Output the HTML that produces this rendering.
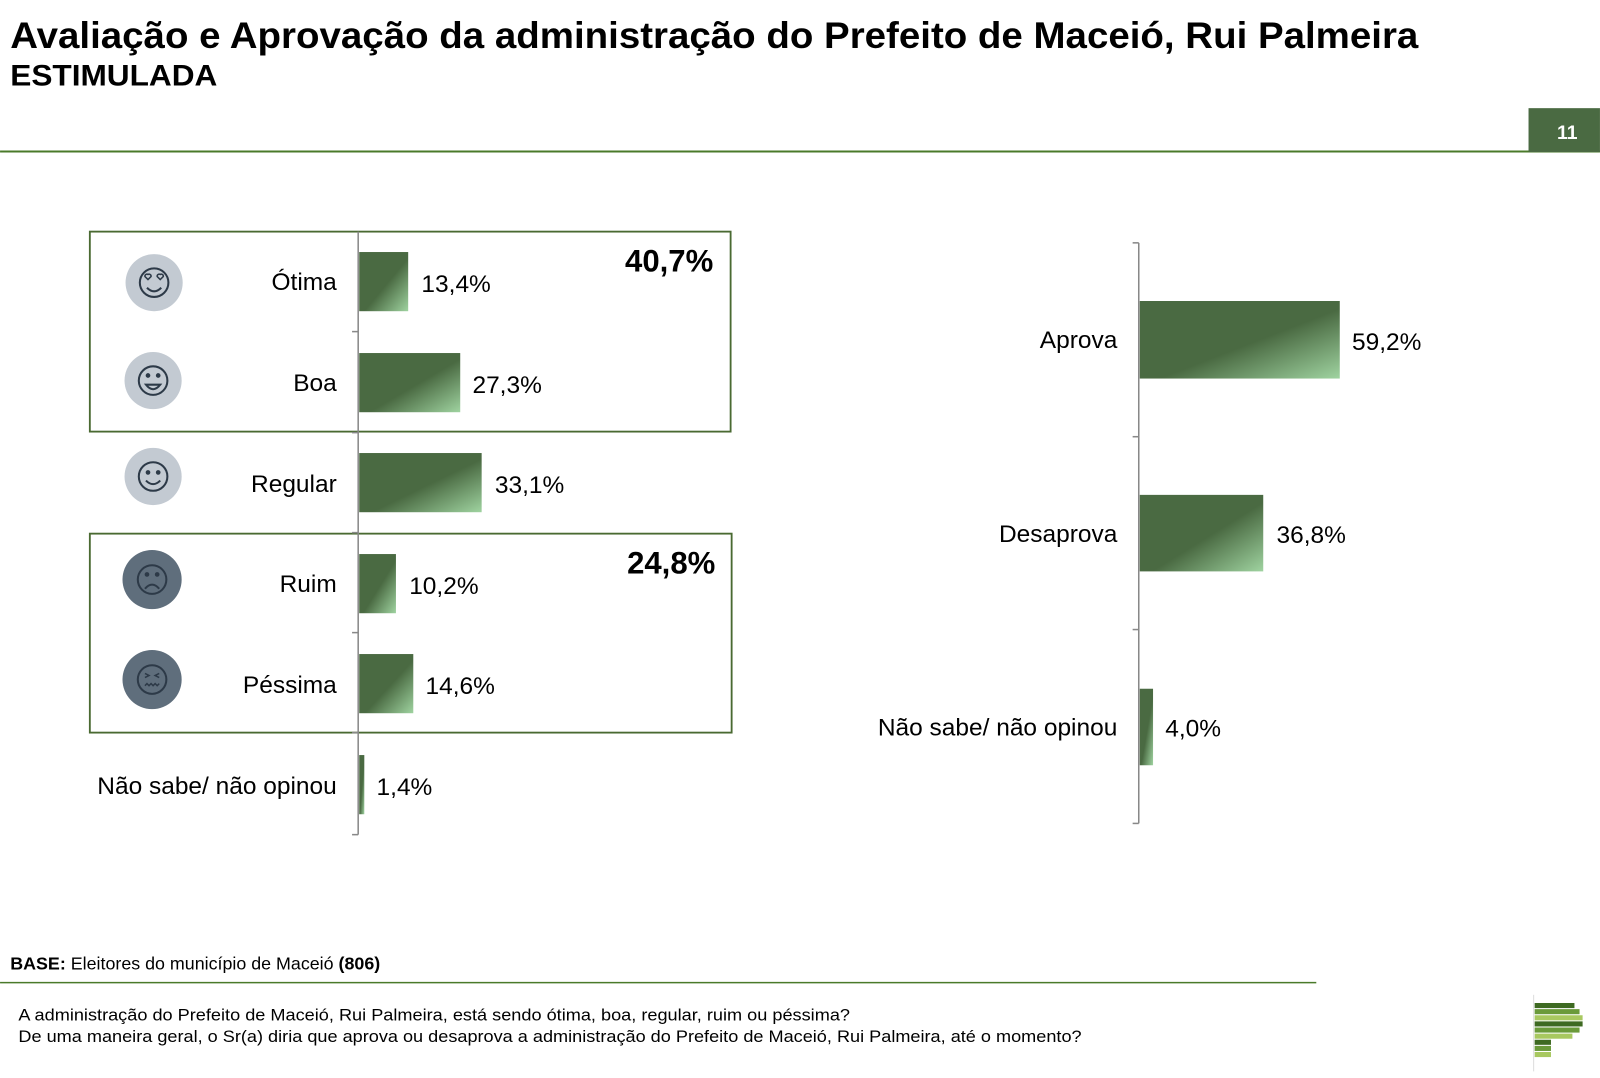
<!DOCTYPE html>
<html><head><meta charset="utf-8"><style>
html,body{margin:0;padding:0;background:#fff;}
svg{display:block;font-family:"Liberation Sans",sans-serif;}
</style></head><body>
<svg width="1600" height="1078" viewBox="0 0 1568 1056.5" xmlns="http://www.w3.org/2000/svg">
<defs>
<linearGradient id="g" x1="0" y1="0" x2="1" y2="1">
<stop offset="0" stop-color="#4a6a42"/><stop offset="0.55" stop-color="#4a6a42"/><stop offset="1" stop-color="#9fd3a0"/>
</linearGradient>
</defs>
<text x="10" y="47" font-size="36" font-weight="bold" fill="#000" textLength="1380" lengthAdjust="spacingAndGlyphs">Avaliação e Aprovação da administração do Prefeito de Maceió, Rui Palmeira</text>
<text x="10" y="84" font-size="29" font-weight="bold" fill="#000" textLength="203" lengthAdjust="spacingAndGlyphs">ESTIMULADA</text>
<line x1="0" y1="148.5" x2="1568" y2="148.5" stroke="#4a7a2a" stroke-width="2"/>
<rect x="1498" y="106" width="70" height="43" fill="#4a6a42"/>
<text x="1536" y="136" font-size="19" font-weight="bold" fill="#fff" text-anchor="middle">11</text>

<rect x="88" y="227" width="628" height="196" fill="none" stroke="#4a6a32" stroke-width="1.8"/>
<rect x="88" y="523" width="629" height="195" fill="none" stroke="#4a6a32" stroke-width="1.8"/>
<g stroke="#888" stroke-width="1.5">
<line x1="351" y1="227" x2="351" y2="818"/>
<line x1="345" y1="325" x2="351" y2="325"/><line x1="345" y1="424" x2="351" y2="424"/>
<line x1="345" y1="522" x2="351" y2="522"/><line x1="345" y1="620" x2="351" y2="620"/>
<line x1="345" y1="718" x2="351" y2="718"/><line x1="345" y1="818" x2="351" y2="818"/>
</g>
<g fill="url(#g)">
<rect x="352" y="247" width="48" height="58"/>
<rect x="352" y="346" width="99" height="58"/>
<rect x="352" y="444" width="120" height="58"/>
<rect x="352" y="543" width="36" height="58"/>
<rect x="352" y="641" width="53" height="58"/>
<rect x="352" y="740" width="5" height="58"/>
</g>
<g font-size="24" fill="#000" text-anchor="end">
<text x="330" y="284">Ótima</text>
<text x="330" y="383">Boa</text>
<text x="330" y="482">Regular</text>
<text x="330" y="580">Ruim</text>
<text x="330" y="679">Péssima</text>
<text x="330" y="778">Não sabe/ não opinou</text>
</g>
<g font-size="24" fill="#000">
<text x="413" y="286">13,4%</text>
<text x="463" y="385">27,3%</text>
<text x="485" y="483">33,1%</text>
<text x="401" y="582">10,2%</text>
<text x="417" y="680">14,6%</text>
<text x="369" y="779">1,4%</text>
</g>
<text x="699" y="266" font-size="30.5" font-weight="bold" text-anchor="end">40,7%</text>
<text x="701" y="562" font-size="30.5" font-weight="bold" text-anchor="end">24,8%</text>

<g stroke="#2d3a48" stroke-width="2" fill="none">
<circle cx="151" cy="277" r="28" fill="#c3cad2" stroke="none"/>
<circle cx="151" cy="277" r="14"/><path d="M144 282 Q151 289 158 282"/>
<path d="M145 274 l-3 -3 a2 2 0 0 1 3 -2 a2 2 0 0 1 3 2z M157 274 l-3 -3 a2 2 0 0 1 3 -2 a2 2 0 0 1 3 2z" stroke-width="1.5"/>
<circle cx="150" cy="373" r="28" fill="#c3cad2" stroke="none"/>
<circle cx="150" cy="373" r="14"/><path d="M143 377 Q150 386 157 377 Z"/>
<circle cx="145" cy="368" r="1.3" fill="#2d3a48"/><circle cx="155" cy="368" r="1.3" fill="#2d3a48"/>
<circle cx="150" cy="467" r="28" fill="#c3cad2" stroke="none"/>
<circle cx="150" cy="467" r="14"/><path d="M143 471 Q150 478 157 471"/>
<circle cx="145" cy="463" r="1.3" fill="#2d3a48"/><circle cx="155" cy="463" r="1.3" fill="#2d3a48"/>
<circle cx="149" cy="568" r="29" fill="#5f6e7c" stroke="none"/>
<circle cx="149" cy="568" r="14"/><path d="M142 577 Q149 569 156 577"/>
<circle cx="144" cy="563" r="1.3" fill="#2d3a48"/><circle cx="154" cy="563" r="1.3" fill="#2d3a48"/>
<circle cx="149" cy="666" r="29" fill="#5f6e7c" stroke="none"/>
<circle cx="149" cy="666" r="14"/><path d="M142 660 l4 2 -4 2 M156 660 l-4 2 4 2 M142 672 l2 -2 2 2 2 -2 2 2 2 -2 2 2 2 -2" stroke-width="1.5"/>
</g>

<g stroke="#888" stroke-width="1.5">
<line x1="1116" y1="238" x2="1116" y2="807"/>
<line x1="1110" y1="238" x2="1116" y2="238"/><line x1="1110" y1="428" x2="1116" y2="428"/>
<line x1="1110" y1="617" x2="1116" y2="617"/><line x1="1110" y1="807" x2="1116" y2="807"/>
</g>
<g fill="url(#g)">
<rect x="1117" y="295" width="196" height="76"/>
<rect x="1117" y="485" width="121" height="75"/>
<rect x="1117" y="675" width="13" height="75"/>
</g>
<g font-size="24" text-anchor="end">
<text x="1095" y="341">Aprova</text>
<text x="1095" y="531">Desaprova</text>
<text x="1095" y="721">Não sabe/ não opinou</text>
</g>
<g font-size="24">
<text x="1325" y="343">59,2%</text>
<text x="1251" y="532">36,8%</text>
<text x="1142" y="722">4,0%</text>
</g>

<text x="10" y="950" font-size="17.5"><tspan font-weight="bold">BASE:</tspan> Eleitores do município de Maceió <tspan font-weight="bold">(806)</tspan></text>
<line x1="0" y1="963" x2="1290" y2="963" stroke="#4a7a2a" stroke-width="1.5"/>
<text x="18" y="1000" font-size="16.5" textLength="815" lengthAdjust="spacingAndGlyphs">A administração do Prefeito de Maceió, Rui Palmeira, está sendo ótima, boa, regular, ruim ou péssima?</text>
<text x="18" y="1021" font-size="16.5" textLength="1042" lengthAdjust="spacingAndGlyphs">De uma maneira geral, o Sr(a) diria que aprova ou desaprova a administração do Prefeito de Maceió, Rui Palmeira, até o momento?</text>
<line x1="1503" y1="975" x2="1503" y2="1050" stroke="#ddd" stroke-width="1"/>
<g>
<rect x="1504" y="983" width="39" height="5" fill="#3e6a22"/>
<rect x="1504" y="989" width="44" height="5" fill="#6a9a3a"/>
<rect x="1504" y="995" width="47" height="5" fill="#a8c860"/>
<rect x="1504" y="1001" width="47" height="5" fill="#3e6a22"/>
<rect x="1504" y="1007" width="44" height="5" fill="#6a9a3a"/>
<rect x="1504" y="1013" width="37" height="5" fill="#a8c860"/>
<rect x="1504" y="1019" width="16" height="5" fill="#3e6a22"/>
<rect x="1504" y="1025" width="16" height="5" fill="#6a9a3a"/>
<rect x="1504" y="1031" width="16" height="5" fill="#a8c860"/>
</g>
</svg>
</body></html>
